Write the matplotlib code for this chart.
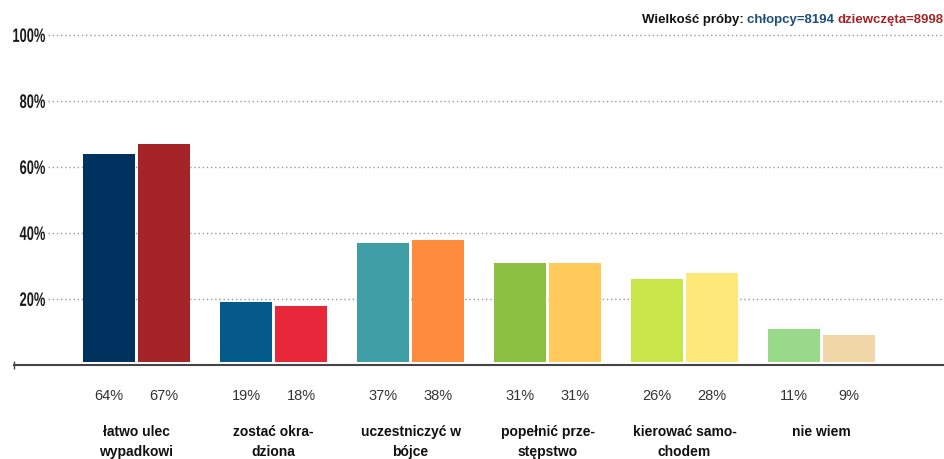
import matplotlib
matplotlib.use("Agg")
import matplotlib.pyplot as plt
from matplotlib.textpath import TextPath
from matplotlib.patches import PathPatch
from matplotlib.font_manager import FontProperties
from matplotlib.transforms import Affine2D
import numpy as np

# Dane
categories = [["łatwo ulec", "wypadkowi"], ["zostać okra-", "dziona"], ["uczestniczyć w", "bójce"],
              ["popełnić prze-", "stępstwo"], ["kierować samo-", "chodem"], ["nie wiem"]]
boys = [64, 19, 37, 31, 26, 11]
girls = [67, 18, 38, 31, 28, 9]
boys_colors = ["#00325f", "#055a8c", "#409ea6", "#8bc043", "#c8e64a", "#98da8a"]
girls_colors = ["#a52428", "#e8283a", "#ff8c3c", "#ffca5a", "#ffe87a", "#f2d8a8"]
y_ticks = [20, 40, 60, 80, 100]
n_boys = 8194
n_girls = 8998

plt.rcParams['font.family'] = ['Liberation Sans', 'DejaVu Sans']

fig = plt.figure(figsize=(9.44, 4.59), dpi=100)
# osie dopasowane do pikseli: 0% -> y=365, 100% -> y=35, x od 14 do 944
ax = fig.add_axes([14 / 944, 1 - 365 / 459, 930 / 944, 330 / 459])
x = np.arange(len(categories))
ax.set_xlim((14 - 136.5) / 137, (944 - 136.5) / 137)
ax.set_ylim(0, 100)

width = 52 / 137
off = 27.5 / 137
base = 0.9  # słupki zaczynają się tuż nad osią

# linie siatki (kropkowane) i etykiety osi Y (zwężona czcionka)
fp = FontProperties(family="Liberation Sans", weight="bold")
for t in y_ticks:
    ax.hlines(t, (48 - 136.5) / 137, ax.get_xlim()[1], colors="#999999",
              linestyles=(0, (1, 2)), linewidth=1, clip_on=False, zorder=0)
    tp = TextPath((0, 0), f"{t}%", size=19.5, prop=fp)
    bb = tp.get_extents()
    px, py = ax.transData.transform(((48 - 136.5) / 137, t))
    sx = 0.66
    tr = Affine2D().translate(-bb.x1, -bb.height / 2).scale(sx, 1).translate(px - 3, py)
    fig.patches.append(PathPatch(tr.transform_path(tp), facecolor="#1a1a1a",
                                 edgecolor="none", transform=None, figure=fig))

ax.bar(x - off, np.array(boys) - base, bottom=base, width=width, color=boys_colors, zorder=2)
ax.bar(x + off, np.array(girls) - base, bottom=base, width=width, color=girls_colors, zorder=2)

# oś pozioma
ax.axhline(0, color="#444444", linewidth=1.5, zorder=3, clip_on=False)
ax.plot([ax.get_xlim()[0]], [0], marker="|", color="#444444", markersize=6, clip_on=False)

for i in range(len(categories)):
    ax.text(x[i] - off, -9.4, f"{boys[i]}%", ha="center", va="center", fontsize=10.5, color="#333333")
    ax.text(x[i] + off, -9.4, f"{girls[i]}%", ha="center", va="center", fontsize=10.5, color="#333333")
    for j, line in enumerate(categories[i]):
        ax.text(x[i], -20.3 - 6.1 * j, line, ha="center", va="center", fontsize=10,
                fontweight="bold", color="#111111")

for s in ax.spines.values():
    s.set_visible(False)
ax.set_xticks([])
ax.set_yticks([])

# tytuł w prawym górnym rogu, składany z trzech części
fig.canvas.draw()
renderer = fig.canvas.get_renderer()
parts = [("Wielkość próby: ", "#111111"), (f"chłopcy={n_boys} ", "#1f4e79"),
         (f"dziewczęta={n_girls}", "#a52428")]
xr = 944 / 944
for txt, col in reversed(parts):
    t = fig.text(xr, 1 - 20 / 459, txt, ha="right", va="center", fontsize=9.5,
                 fontweight="bold", color=col)
    bb = t.get_window_extent(renderer)
    xr = bb.x0 / fig.bbox.width

fig.savefig("out.png", dpi=100)
